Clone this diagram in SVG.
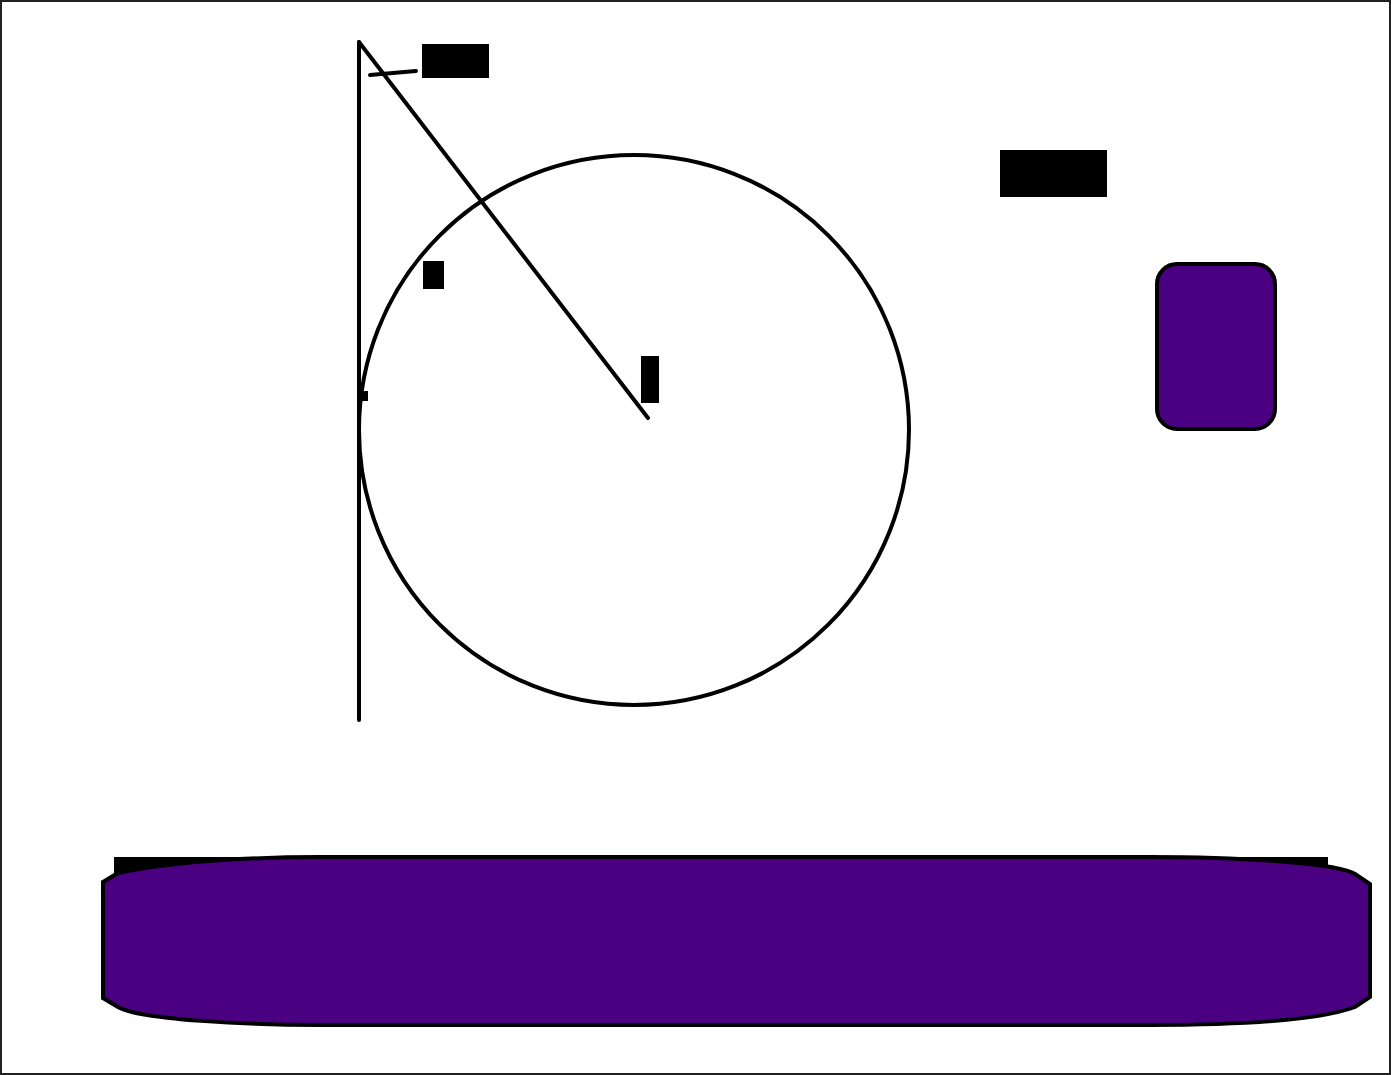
<svg xmlns="http://www.w3.org/2000/svg" width="1391" height="1075" viewBox="0 0 1391 1075">
<style>
.ln{fill:none;stroke:#000;stroke-width:4;stroke-linecap:round;stroke-linejoin:round}
.blk{fill:#000}
.node{fill:#4B0082;stroke:#000;stroke-width:4}
</style>
<rect x="1" y="1" width="1389" height="1073" fill="#fff" stroke="#222" stroke-width="2"/>
<g id="connectors">
<line class="ln" x1="359" y1="42" x2="359" y2="720"/>
<line class="ln" x1="359" y1="42" x2="648" y2="418"/>
<line class="ln" x1="370" y1="75" x2="416" y2="71"/>
</g>
<g id="circle">
<circle class="ln" cx="634" cy="430" r="275"/>
</g>
<g id="labels">
<rect class="blk" x="422" y="44" width="67" height="34"/>
<rect class="blk" x="1000" y="150" width="107" height="47"/>
<rect class="blk" x="423" y="261" width="21" height="28"/>
<rect class="blk" x="641" y="356" width="18" height="47"/>
<rect class="blk" x="361" y="391" width="7" height="10"/>
</g>
<g id="node-box">
<rect class="node" x="1157" y="264" width="118" height="165" rx="20"/>
</g>
<g id="node-band">
<rect class="blk" x="114" y="857" width="1214" height="30"/>
<path class="node" d="M103,882 L118,873 C170,862 250,857 320,857 L1150,857 C1250,857 1340,864 1355,874 L1370,884 L1370,997 L1355,1007 C1320,1020 1250,1025 1150,1025 L320,1025 C250,1025 140,1020 118,1007 L103,998 Z"/>
</g>
</svg>
